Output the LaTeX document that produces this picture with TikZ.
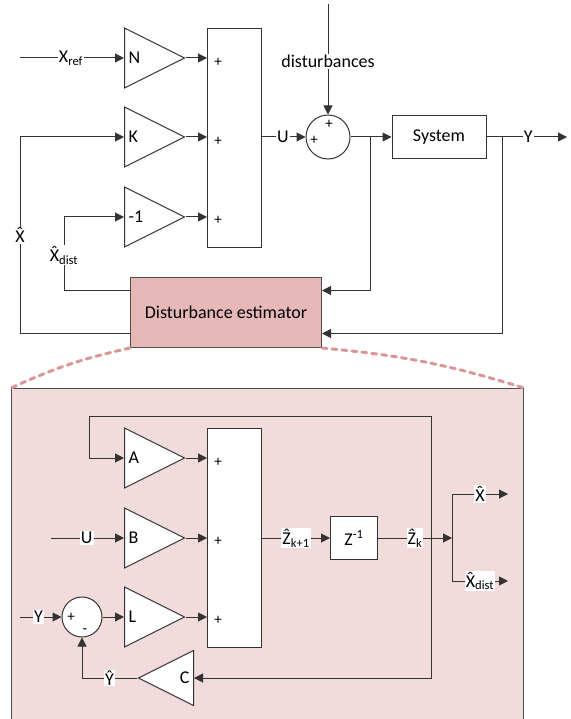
\documentclass[tikz,border=0pt]{standalone}
\usepackage{fontspec}
\setmainfont{Carlito}
\usetikzlibrary{arrows.meta,positioning,shapes.geometric}
\definecolor{estfill}{HTML}{E6B9B8}
\definecolor{zoomfill}{HTML}{F2DCDB}
\definecolor{zoomline}{HTML}{D99694}
\newcommand{\xhat}{\accent"02C6 X}
\begin{document}
\begin{tikzpicture}[
  x=1pt,y=-1pt,
  font=\fontsize{18}{20}\selectfont,
  line width=1pt,draw=black!80,
  arrow/.style={-{Triangle[length=9pt,width=9pt]}},
  lbl/.style={fill=white,inner sep=1pt},
  sgn/.style={font=\fontsize{15}{16}\selectfont,inner sep=0pt},
  gain/.style={draw,fill=white,isosceles triangle,isosceles triangle stretches,
    inner sep=0pt,minimum width=60pt,minimum height=60pt,
    label={[anchor=west,inner sep=4pt]west:#1}},
  gainleft/.style={draw,fill=white,isosceles triangle,isosceles triangle stretches,
    shape border rotate=180,inner sep=0pt,minimum width=55pt,minimum height=55pt,
    label={[anchor=east,inner sep=4pt]east:#1}},
  summer/.style={draw,fill=white,minimum width=54pt,minimum height=219pt,anchor=north west},
  block/.style={draw,fill=white,inner sep=2pt}
]
\useasboundingbox (0,0) rectangle (570,719);
\clip (0,0) rectangle (570,719);

% upper loop
\node[gain=N,anchor=west] (N) at (124,58) {};
\node[gain=K,anchor=west] (K) at (124,137) {};
\node[gain=-1,anchor=west] (M) at (124,217) {};
\node[summer] (S1) at (207,28) {};
\node[sgn] at (218,62) {+};
\node[sgn] at (218,141) {+};
\node[sgn] at (218,220) {+};
\draw[arrow] ([xshift=-104pt]N.west) -- node[lbl,pos=0.49]{X\textsubscript{ref}} (N.west);
\draw[arrow] (N.apex) -- (N.apex -| S1.west);
\draw[arrow] (K.apex) -- (K.apex -| S1.west);
\draw[arrow] (M.apex) -- (M.apex -| S1.west);

\node[draw,circle,minimum size=44pt,inner sep=0pt] (sum) at (328,137) {};
\node[sgn] at (314,140) {+};
\node[sgn] at (329,124) {+};
\coordinate (dtop) at (328,4);
\draw[arrow] (dtop) -- node[lbl,pos=0.52]{disturbances} (sum.north);
\draw[arrow] (S1.east |- sum) -- node[lbl,pos=0.48]{U} (sum.west);

\node[block,minimum width=94pt,minimum height=43pt] (sys) at (439,137) {System};
\draw[arrow] (sum.east) -- (sys.west);
\coordinate (yout) at (567,137);
\draw[arrow] (sys.east) -- node[lbl,pos=0.52]{Y} (yout);

\node[draw=black!70,fill=estfill,minimum width=191pt,minimum height=70pt,
  anchor=north west] (est) at (130,277) {Disturbance estimator};
\coordinate (ubr) at (370,137);
\coordinate (ybr) at (502,137);
\draw[arrow] (ubr) |- ([yshift=22pt]est.east);
\draw[arrow] (ybr) |- ([yshift=-21pt]est.east);
\draw[arrow] ([yshift=-21pt]est.west) -- ++(-110,0) |- node[lbl,pos=0.25]{\xhat} (K.west);
\draw[arrow] ([yshift=22pt]est.west) -- ++(-66,0) |- node[lbl,pos=0.24]{\xhat\textsubscript{dist}} (M.west);

% zoomed estimator
\node[draw=black!70,fill=zoomfill,minimum width=512pt,minimum height=360pt,
  anchor=north west] (zoom) at (11,388) {};
\draw[zoomline,line width=3pt,dash pattern=on 5pt off 5pt,line cap=round]
  (est.south west) to[bend right=6] (zoom.north west);
\draw[zoomline,line width=3pt,dash pattern=on 5pt off 5pt,line cap=round]
  (est.south east) to[bend left=6] (zoom.north east);

\node[gain=A,anchor=west] (A) at (124,458) {};
\node[gain=B,anchor=west] (B) at (124,538) {};
\node[gain=L,anchor=west] (L) at (124,617) {};
\node[summer] (S2) at (207,428) {};
\node[sgn] at (218,462) {+};
\node[sgn] at (218,541) {+};
\node[sgn] at (218,620) {+};
\draw[arrow] (A.apex) -- (A.apex -| S2.west);
\draw[arrow] (B.apex) -- (B.apex -| S2.west);
\draw[arrow] (L.apex) -- (L.apex -| S2.west);
\draw[arrow] ([xshift=-73pt]B.west) -- node[lbl,pos=0.49]{U} (B.west);

\node[draw,circle,fill=white,minimum size=40pt,inner sep=0pt] (sum2) at (82,617) {};
\node[sgn] at (71,617) {+};
\node[sgn] at (85,631) {-};
\draw[arrow] ([xshift=-42pt]sum2.west) -- node[lbl,pos=0.45]{Y} (sum2.west);
\draw[arrow] (sum2.east) -- (L.west);

\node[gainleft=C,anchor=east] (C) at (194,678) {};
\draw[arrow] (C.apex) -| node[lbl,pos=0.25]{Ŷ} (sum2.south);

\node[block,minimum width=47pt,minimum height=43pt] (zinv) at (354,538) {Z\textsuperscript{-1}};
\draw[arrow] (S2.east |- B) -- node[lbl,pos=0.5]{Ẑ\textsubscript{k+1}} (zinv.west);
\coordinate (zbr) at (452,538);
\draw[arrow] (zinv.east) -- node[lbl,pos=0.5]{Ẑ\textsubscript{k}} (zbr);
\coordinate (fb) at (431,538);
\draw[arrow] (fb) |- ++(-342,-122) |- (A.west);
\draw[arrow] (fb) |- (C.east);
\draw[arrow] (zbr) |- node[lbl,pos=0.75]{\xhat} ++(56,-44);
\draw[arrow] (zbr) |- node[lbl,pos=0.75]{\xhat\textsubscript{dist}} ++(56,43);
\end{tikzpicture}
\end{document}
